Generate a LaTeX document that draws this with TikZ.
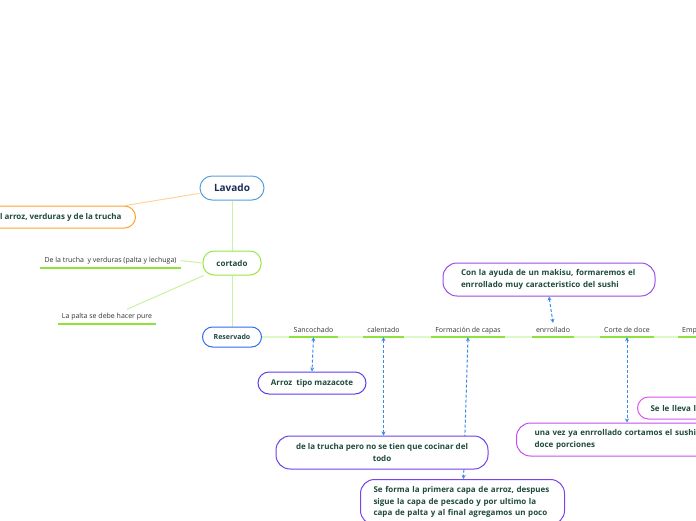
\documentclass[tikz,border=0pt]{standalone}
\usepackage{fontspec}
\setmainfont{Open Sans}
\usetikzlibrary{arrows.meta,calc}
\definecolor{lavb}{HTML}{5AA0E0}
\definecolor{navy}{HTML}{1C2B58}
\definecolor{orange1}{HTML}{F7A530}
\definecolor{lorange}{HTML}{FFD49A}
\definecolor{green1}{HTML}{98E640}
\definecolor{lgreen}{HTML}{C8F3A0}
\definecolor{ugreen}{HTML}{8FE23E}
\definecolor{trunk}{HTML}{DCF8C4}
\definecolor{resb}{HTML}{2F6CF2}
\definecolor{vio1}{HTML}{5A3DF2}
\definecolor{vio2}{HTML}{6D42EE}
\definecolor{vio3}{HTML}{7A44EC}
\definecolor{pur1}{HTML}{9C4CE6}
\definecolor{mag1}{HTML}{C44EF0}
\definecolor{mag2}{HTML}{E24EF2}
\definecolor{dblue}{HTML}{3A8BE8}
\definecolor{txtg}{HTML}{1F4A3C}
\definecolor{subg}{HTML}{333333}
\pgfdeclarelayer{background}
\pgfsetlayers{background,main}
\tikzset{
 pill/.style={draw, line width=1pt, rounded corners=11pt, fill=white, text=txtg,
   font=\fontsize{8}{11.5}\selectfont\bfseries, inner sep=0pt},
 subt/.style={text=subg, font=\fontsize{7}{8}\selectfont, inner xsep=4pt, inner ysep=3.5pt,
   text height=5.5pt, text depth=1.5pt},
 uline/.style={draw=ugreen, line width=2.4pt},
 gline/.style={draw=lgreen, line width=1pt},
 darrow/.style={draw=dblue, line width=1pt, dash pattern=on 3pt off 2pt, <->,
   >={Stealth[length=4pt,width=4pt]}},
}
\begin{document}
\begin{tikzpicture}[x=1pt,y=-1pt]
\useasboundingbox (0,0) rectangle (696,520);
\clip (0,0) rectangle (696,520);
% main nodes
\node[pill, draw=lavb, text=navy, font=\fontsize{10}{12}\selectfont\bfseries,
  minimum width=64pt, minimum height=24pt, rounded corners=12pt] (lav) at (232,188) {Lavado};
\node[pill, draw=orange1, anchor=east, minimum height=22pt, inner xsep=14pt] (ora) at (136,217)
  {del arroz, verduras y de la trucha};
\node[pill, draw=green1, minimum width=58pt, minimum height=24pt] (cor) at (232,263) {cortado};
\node[pill, draw=resb, font=\fontsize{7}{9}\selectfont\bfseries, minimum width=59pt,
  minimum height=20pt, rounded corners=10pt] (res) at (232,337) {Reservado};
% subtopics
\node[subt, anchor=base] (s1) at (110.5,262.5) {De la trucha~ y verduras (palta y lechuga)};
\node[subt, anchor=base] (s2) at (107,318.5) {La palta se debe hacer pure};
\node[subt, anchor=base] (sanc) at (313.5,332) {Sancochado};
\node[subt, anchor=base] (cal) at (383.5,332) {calentado};
\node[subt, anchor=base] (form) at (468,332) {Formación de capas};
\node[subt, anchor=base] (enr) at (553,332) {enrrollado};
\node[subt, anchor=base] (corte) at (627,332) {Corte de doce};
\node[subt, anchor=base west] (emp) at (678,332) {Emplatado};
% detail boxes
\node[pill, draw=vio1, minimum width=108pt, minimum height=22pt] (arr) at (312,383) {Arroz~ tipo mazacote};
\node[pill, draw=vio2, minimum width=212pt, minimum height=33pt, rounded corners=14pt, align=center]
  (tru) at (382,452.5) {de la trucha pero no se tien que cocinar del\\todo};
\node[pill, draw=vio3, anchor=north west, text width=178pt, inner xsep=13pt, inner ysep=7pt,
  rounded corners=14pt, align=left] (sef) at (360,479)
  {Se forma la primera capa de arroz, despues\\sigue la capa de pescado y por ultimo la\\capa de palta y al final agregamos un poco};
\node[pill, draw=pur1, minimum height=33pt, text width=176pt, inner xsep=18pt, align=left,
  rounded corners=14pt] (con) at (549,279.5)
  {Con la ayuda de un makisu, formaremos el\\enrrollado muy caracteristico del sushi};
\node[pill, draw=mag1, anchor=west, text width=190pt, inner xsep=18pt, minimum height=33pt,
  align=left, rounded corners=14pt] (una) at (516,439.5)
  {una vez ya enrrollado cortamos el sushi\\doce porciones};
\node[pill, draw=mag2, anchor=west, text width=80pt, inner xsep=13pt, minimum height=22pt,
  align=left] (lle) at (637,408) {Se le lleva la};
\coordinate (trend) at (696,337);
\begin{pgfonlayer}{background}
\draw[draw=lorange, line width=1pt] (lav) -- (ora);
\draw[gline] (lav.south) -- (cor.north);
\draw[gline] (cor.south) -- (res.north);
\draw[gline] (cor.west) -- (s1.east);
\draw[gline] (cor) -- ($(s2.north)+(20,0)$);
\draw[draw=trunk, line width=1.5pt] (res.east) -- (trend);
\foreach \n in {s1,s2,sanc,cal,form,enr,corte,emp}
  \draw[uline] (\n.south west) -- (\n.south east);
\draw[darrow] (sanc.south) -- (arr.north);
\draw[darrow] (cal.south) -- (tru.north -| cal.south);
\draw[darrow] (form.south) -- ($(sef.north)+(1,0)$);
\draw[darrow] (con.south) -- (enr.north);
\draw[darrow] (corte.south) -- (corte.south |- una.north);
\end{pgfonlayer}
\end{tikzpicture}
\end{document}
